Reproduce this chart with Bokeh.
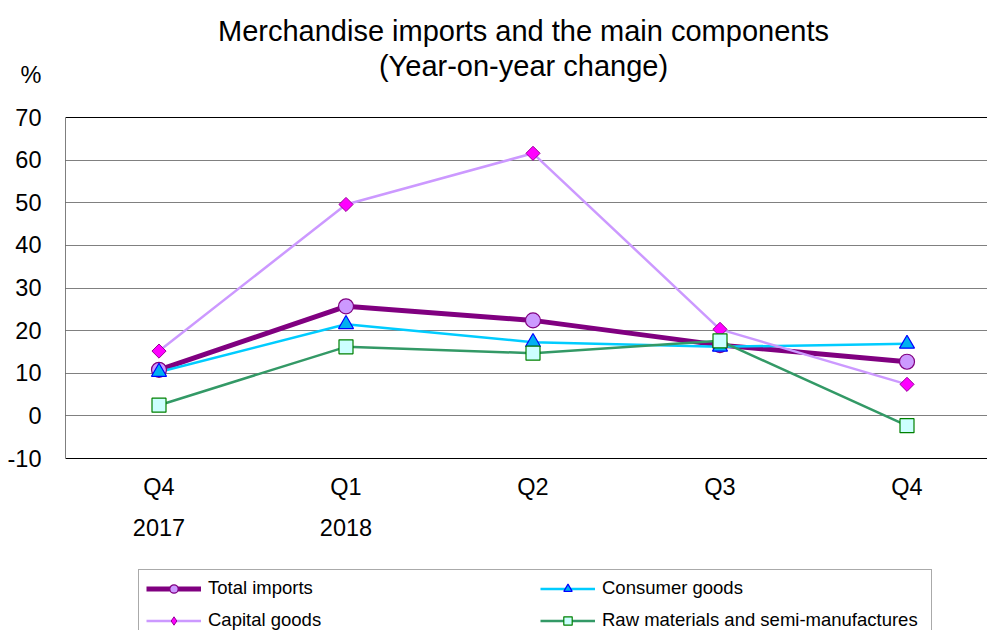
import math
from bokeh.plotting import figure
from bokeh.models import (Range1d, FixedTicker, LinearAxis, Legend, LegendItem,
                          Label, Span)
from bokeh.embed import file_html
from bokeh.resources import INLINE

quarters = ["Q4", "Q1", "Q2", "Q3", "Q4"]
years = ["2017", "2018", "", "", ""]
total_imports = [10.8, 25.7, 22.4, 16.6, 12.7]
consumer_goods = [10.3, 21.5, 17.3, 16.2, 16.9]
capital_goods = [15.2, 49.6, 61.6, 20.3, 7.4]
raw_materials = [2.5, 16.2, 14.7, 17.6, -2.3]
y_ticks = [-10, 0, 10, 20, 30, 40, 50, 60, 70]
unit_label = "%"
title_lines = ["Merchandise imports and the main components", "(Year-on-year change)"]

FONT = "Liberation Sans"
TICK_FS = "23.5px"
xs = list(range(len(quarters)))

# frame covers the whole canvas height; y mapping: 70 -> px 117, -10 -> px 458
px_per_unit = (458 - 117) / 80.0
y_top = 70 + 117 / px_per_unit
y_bot = -10 - (630 - 458) / px_per_unit
x_right = -0.5 + (987 - 65) / 187.0

p = figure(width=987, height=630, output_backend="svg", toolbar_location=None,
           x_range=Range1d(-0.5, x_right), y_range=Range1d(y_bot, y_top),
           min_border_left=65, min_border_right=0, min_border_top=0,
           min_border_bottom=0, x_axis_location=None)
p.outline_line_color = None
p.background_fill_color = "white"
for g in p.xgrid:
    g.visible = False

# y axis (with the "%" unit as a label above the top tick)
yax = p.yaxis[0]
yax.ticker = FixedTicker(ticks=y_ticks + [80])
yax.major_label_overrides = {-10: "-10", 80: unit_label}
yax.major_label_text_font = FONT
yax.major_label_text_font_size = TICK_FS
yax.major_label_text_color = "black"
yax.major_tick_line_color = None
yax.minor_tick_line_color = None
yax.axis_line_color = None
yax.major_label_standoff = 18

p.ygrid.ticker = FixedTicker(ticks=y_ticks[1:-1])
p.ygrid.grid_line_color = "#808080"
p.ygrid.grid_line_width = 1
p.add_layout(Span(location=y_ticks[-1], dimension="width", line_color="black", line_width=1))
p.segment(x0=[-0.5], y0=[y_ticks[0]], x1=[-0.5], y1=[y_ticks[-1]], line_color="black", line_width=1)

# x axes fixed at the bottom of the value range
xq = LinearAxis(ticker=FixedTicker(ticks=xs), fixed_location=y_ticks[0],
                major_label_overrides={i: q for i, q in enumerate(quarters)})
xq.major_label_text_font = FONT
xq.major_label_text_font_size = TICK_FS
xq.major_label_text_color = "black"
xq.major_tick_line_color = None
xq.minor_tick_line_color = None
xq.axis_line_color = "black"
xq.major_label_standoff = 9
p.add_layout(xq, "below")

xy = LinearAxis(ticker=FixedTicker(ticks=[i for i, y in enumerate(years) if y]),
                fixed_location=y_ticks[0],
                major_label_overrides={i: y for i, y in enumerate(years) if y})
xy.major_label_text_font = FONT
xy.major_label_text_font_size = TICK_FS
xy.major_label_text_color = "black"
xy.major_tick_line_color = None
xy.minor_tick_line_color = None
xy.axis_line_color = None
xy.major_label_standoff = 54
p.add_layout(xy, "below")

# title
for txt, py in zip(title_lines, [30, 65]):
    p.add_layout(Label(x=-0.5 + (523 - 65) / 187.0, y=70 + (117 - py) / px_per_unit,
                       text=txt, text_font=FONT, text_font_size="29px",
                       text_align="center", text_baseline="middle", text_color="black"))

# series
l_tot = p.line(xs, total_imports, line_color="#800080", line_width=5)
l_con = p.line(xs, consumer_goods, line_color="#00CCFF", line_width=2.5)
l_cap = p.line(xs, capital_goods, line_color="#CC99FF", line_width=2.5)
l_raw = p.line(xs, raw_materials, line_color="#339966", line_width=2.5)

m_tot = p.scatter(xs, total_imports, marker="circle", size=15, fill_color="#CC99FF",
                  line_color="#800080", line_width=1.2)
m_con = p.scatter(xs, consumer_goods, marker="triangle", size=15, fill_color="#00B0F0",
                  line_color="#0000FF", line_width=1.2)
m_cap = p.scatter(xs, capital_goods, marker="square", size=10, angle=math.pi / 4,
                  fill_color="#FF00FF", line_color="#990099", line_width=1)
m_raw = p.scatter(xs, raw_materials, marker="square", size=14, fill_color="#CCFFFF",
                  line_color="#008000", line_width=1.2)
# legend-only swatch for the diamond (legend glyphs are drawn unrotated);
# its single point is NaN so nothing is drawn in the plot itself
m_cap_key = p.scatter(x=[float("nan")], y=[float("nan")], marker="diamond", size=13,
                      fill_color="#FF00FF", line_color="#990099", line_width=1)

legend = Legend(items=[
    LegendItem(label="Total imports", renderers=[l_tot, m_tot]),
    LegendItem(label="Capital goods", renderers=[l_cap, m_cap_key]),
    LegendItem(label="Consumer goods", renderers=[l_con, m_con]),
    LegendItem(label="Raw materials and semi-manufactures", renderers=[l_raw, m_raw]),
], location=(73, -9), orientation="vertical", ncols=2,
    glyph_width=55, glyph_height=21, label_standoff=7, label_width=322,
    label_height=21, spacing=10, padding=7, margin=0,
    label_text_font=FONT, label_text_font_size="18.5px", label_text_color="black",
    border_line_color="#555555", border_line_width=1, background_fill_alpha=1)
p.add_layout(legend, "center")

open("out.html", "w").write(file_html(p, INLINE))
